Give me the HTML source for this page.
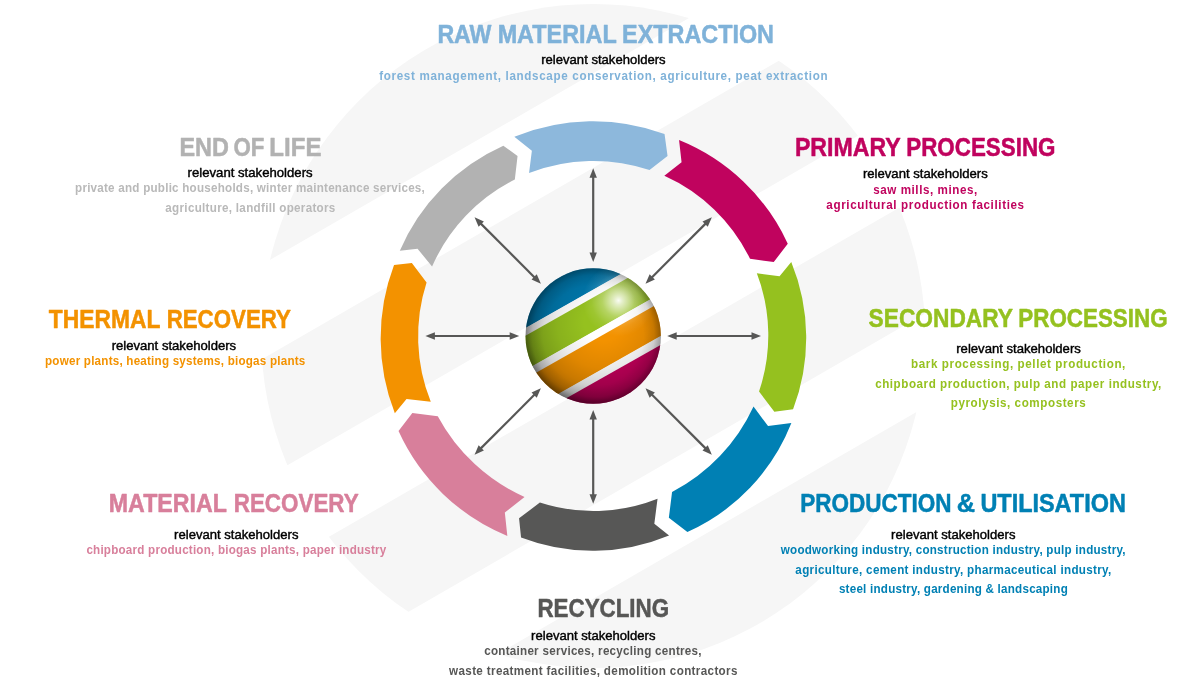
<!DOCTYPE html>
<html><head><meta charset="utf-8"><title>Cascade utilisation cycle</title>
<style>
html,body{margin:0;padding:0;background:#fff;}
body{width:1200px;height:699px;overflow:hidden;font-family:"Liberation Sans",sans-serif;}
svg{display:block;will-change:transform;}
text{font-family:"Liberation Sans",sans-serif;}
.title{font-size:25.1px;font-weight:bold;stroke-width:0.5px;stroke-linejoin:round;word-spacing:-1.5px;}
.rel{font-size:12.2px;font-weight:normal;stroke:#000;stroke-width:0.4px;}
.desc{font-size:12.2px;font-weight:bold;}
</style></head><body>
<svg width="1200" height="699" viewBox="0 0 1200 699">
<defs>
<clipPath id="bgclip"><circle cx="593.20" cy="336.00" r="332.00"/></clipPath>
<clipPath id="sphclip"><circle cx="593.20" cy="336.00" r="67.70"/></clipPath>
<radialGradient id="shade" gradientUnits="userSpaceOnUse" cx="603" cy="322" r="84">
<stop offset="0" stop-color="#000" stop-opacity="0"/>
<stop offset="0.22" stop-color="#000" stop-opacity="0"/>
<stop offset="0.55" stop-color="#000" stop-opacity="0.08"/>
<stop offset="0.75" stop-color="#000" stop-opacity="0.17"/>
<stop offset="0.9" stop-color="#000" stop-opacity="0.28"/>
<stop offset="1" stop-color="#000" stop-opacity="0.42"/>
</radialGradient>
<radialGradient id="edge" gradientUnits="userSpaceOnUse" cx="593.20" cy="336.00" r="67.70">
<stop offset="0" stop-color="#000" stop-opacity="0"/>
<stop offset="0.74" stop-color="#000" stop-opacity="0"/>
<stop offset="0.90" stop-color="#000" stop-opacity="0.09"/>
<stop offset="1" stop-color="#000" stop-opacity="0.28"/>
</radialGradient>
<radialGradient id="hl" cx="0.5" cy="0.5" r="0.5">
<stop offset="0" stop-color="#fff" stop-opacity="0.95"/>
<stop offset="0.12" stop-color="#fff" stop-opacity="0.75"/>
<stop offset="0.45" stop-color="#fff" stop-opacity="0.30"/>
<stop offset="0.75" stop-color="#fff" stop-opacity="0.08"/>
<stop offset="1" stop-color="#fff" stop-opacity="0"/>
</radialGradient>
</defs>
<rect x="0" y="0" width="1200" height="699" fill="#fff"/>
<g clip-path="url(#bgclip)"><g transform="translate(593.20 336.00) rotate(-30)"><rect x="-400" y="-400.00" width="800" height="172.50" fill="#f6f6f6"/><rect x="-400" y="-145.60" width="800" height="104.60" fill="#f6f6f6"/><rect x="-400" y="41.80" width="800" height="104.70" fill="#f6f6f6"/><rect x="-400" y="227.50" width="800" height="172.50" fill="#f6f6f6"/></g></g>

<path d="M394.82 413.26 A206.15 206.15 0 0 1 394.02 265.06 L411.85 263.05 L426.57 282.38 A175.57 175.57 0 0 0 430.77 401.74 L406.54 399.04 Z" fill="#f39200"/>
<path d="M399.83 250.74 A202.87 202.87 0 0 1 503.33 145.73 L517.55 156.05 L514.84 179.58 A176.25 176.25 0 0 0 432.07 266.56 L417.55 248.73 Z" fill="#b2b2b2"/>
<path d="M514.34 136.82 A207.30 207.30 0 0 1 664.54 134.02 L667.55 156.05 L649.52 170.07 A177.81 177.81 0 0 0 529.06 173.07 L531.87 150.74 Z" fill="#8db8dc"/>
<path d="M679.06 140.03 A203.73 203.73 0 0 1 787.77 243.72 L773.75 262.05 L750.02 258.74 A174.99 174.99 0 0 0 664.34 175.78 L681.57 162.36 Z" fill="#c0035e"/>
<path d="M791.27 262.05 A200.48 200.48 0 0 1 793.08 409.35 L774.35 411.75 L759.03 391.52 A174.26 174.26 0 0 0 756.83 273.26 L779.56 276.27 Z" fill="#95c11f"/>
<path d="M791.38 423.07 A199.88 199.88 0 0 1 687.38 532.07 L668.85 517.85 L672.06 492.02 A181.74 181.74 0 0 0 753.52 406.54 L768.04 426.07 Z" fill="#0080b4"/>
<path d="M669.05 535.38 A198.60 198.60 0 0 1 521.05 537.38 L519.05 518.36 L539.88 502.53 A173.57 173.57 0 0 0 657.54 498.73 L654.33 523.76 Z" fill="#575756"/>
<path d="M507.34 535.88 A204.74 204.74 0 0 1 398.53 431.08 L412.35 413.06 L437.78 416.26 A183.69 183.69 0 0 0 524.56 497.03 L504.83 512.55 Z" fill="#d87f9b"/>

<g transform="translate(593.20 336.00) rotate(0)"><line x1="82.50" y1="0" x2="159.30" y2="0" stroke="#575756" stroke-width="2.2"/><path d="M74.00 0 L83.50 -3.70 L83.50 3.70 Z" fill="#575756"/><path d="M167.80 0 L158.30 -3.70 L158.30 3.70 Z" fill="#575756"/></g>
<g transform="translate(593.20 336.00) rotate(45)"><line x1="82.50" y1="0" x2="159.30" y2="0" stroke="#575756" stroke-width="2.2"/><path d="M74.00 0 L83.50 -3.70 L83.50 3.70 Z" fill="#575756"/><path d="M167.80 0 L158.30 -3.70 L158.30 3.70 Z" fill="#575756"/></g>
<g transform="translate(593.20 336.00) rotate(90)"><line x1="82.50" y1="0" x2="159.30" y2="0" stroke="#575756" stroke-width="2.2"/><path d="M74.00 0 L83.50 -3.70 L83.50 3.70 Z" fill="#575756"/><path d="M167.80 0 L158.30 -3.70 L158.30 3.70 Z" fill="#575756"/></g>
<g transform="translate(593.20 336.00) rotate(135)"><line x1="82.50" y1="0" x2="159.30" y2="0" stroke="#575756" stroke-width="2.2"/><path d="M74.00 0 L83.50 -3.70 L83.50 3.70 Z" fill="#575756"/><path d="M167.80 0 L158.30 -3.70 L158.30 3.70 Z" fill="#575756"/></g>
<g transform="translate(593.20 336.00) rotate(180)"><line x1="82.50" y1="0" x2="159.30" y2="0" stroke="#575756" stroke-width="2.2"/><path d="M74.00 0 L83.50 -3.70 L83.50 3.70 Z" fill="#575756"/><path d="M167.80 0 L158.30 -3.70 L158.30 3.70 Z" fill="#575756"/></g>
<g transform="translate(593.20 336.00) rotate(225)"><line x1="82.50" y1="0" x2="159.30" y2="0" stroke="#575756" stroke-width="2.2"/><path d="M74.00 0 L83.50 -3.70 L83.50 3.70 Z" fill="#575756"/><path d="M167.80 0 L158.30 -3.70 L158.30 3.70 Z" fill="#575756"/></g>
<g transform="translate(593.20 336.00) rotate(270)"><line x1="82.50" y1="0" x2="159.30" y2="0" stroke="#575756" stroke-width="2.2"/><path d="M74.00 0 L83.50 -3.70 L83.50 3.70 Z" fill="#575756"/><path d="M167.80 0 L158.30 -3.70 L158.30 3.70 Z" fill="#575756"/></g>
<g transform="translate(593.20 336.00) rotate(315)"><line x1="82.50" y1="0" x2="159.30" y2="0" stroke="#575756" stroke-width="2.2"/><path d="M74.00 0 L83.50 -3.70 L83.50 3.70 Z" fill="#575756"/><path d="M167.80 0 L158.30 -3.70 L158.30 3.70 Z" fill="#575756"/></g>

<g clip-path="url(#sphclip)"><g transform="translate(593.20 336.00) rotate(-29.5)"><rect x="-80" y="-80.00" width="160" height="39.90" fill="#0078ad"/><rect x="-80" y="-40.40" width="160" height="7.20" fill="#ffffff"/><rect x="-80" y="-33.50" width="160" height="30.00" fill="#95c11f"/><rect x="-80" y="-3.80" width="160" height="7.90" fill="#ffffff"/><rect x="-80" y="3.80" width="160" height="29.70" fill="#f39200"/><rect x="-80" y="33.20" width="160" height="8.00" fill="#ffffff"/><rect x="-80" y="40.90" width="160" height="39.40" fill="#c2005a"/></g><circle cx="593.20" cy="336.00" r="68.20" fill="url(#shade)"/><circle cx="593.20" cy="336.00" r="68.20" fill="url(#edge)"/><circle cx="618.50" cy="300.50" r="36" fill="url(#hl)"/></g>

<text class="title" x="437.40" y="43.00" textLength="54.06" lengthAdjust="spacingAndGlyphs" fill="#7fb2d9" stroke="#7fb2d9">RAW</text>
<text class="title" x="497.63" y="43.00" textLength="119.15" lengthAdjust="spacingAndGlyphs" fill="#7fb2d9" stroke="#7fb2d9">MATERIAL</text>
<text class="title" x="622.12" y="43.00" textLength="151.85" lengthAdjust="spacingAndGlyphs" fill="#7fb2d9" stroke="#7fb2d9">EXTRACTION</text>
<text class="rel" x="541.22" y="64.40" textLength="124.38" lengthAdjust="spacingAndGlyphs" fill="#000">relevant stakeholders</text>
<text class="desc" transform="translate(379.24 79.60) scale(0.955 1)" textLength="469.40" lengthAdjust="spacing" fill="#7fb2d9">forest management, landscape conservation, agriculture, peat extraction</text>
<text class="title" x="179.49" y="156.00" textLength="49.42" lengthAdjust="spacingAndGlyphs" fill="#b2b2b2" stroke="#b2b2b2">END</text>
<text class="title" x="233.44" y="156.00" textLength="30.96" lengthAdjust="spacingAndGlyphs" fill="#b2b2b2" stroke="#b2b2b2">OF</text>
<text class="title" x="269.37" y="156.00" textLength="52.06" lengthAdjust="spacingAndGlyphs" fill="#b2b2b2" stroke="#b2b2b2">LIFE</text>
<text class="rel" x="187.58" y="176.60" textLength="125.07" lengthAdjust="spacingAndGlyphs" fill="#000">relevant stakeholders</text>
<text class="desc" transform="translate(75.04 192.00) scale(0.955 1)" textLength="366.25" lengthAdjust="spacing" fill="#b9b9b9">private and public households, winter maintenance services,</text>
<text class="desc" transform="translate(165.35 211.80) scale(0.955 1)" textLength="177.99" lengthAdjust="spacing" fill="#b9b9b9">agriculture, landfill operators</text>
<text class="title" x="48.86" y="327.60" textLength="111.50" lengthAdjust="spacingAndGlyphs" fill="#f39200" stroke="#f39200">THERMAL</text>
<text class="title" x="166.65" y="327.60" textLength="124.30" lengthAdjust="spacingAndGlyphs" fill="#f39200" stroke="#f39200">RECOVERY</text>
<text class="rel" x="111.67" y="349.80" textLength="124.49" lengthAdjust="spacingAndGlyphs" fill="#000">relevant stakeholders</text>
<text class="desc" transform="translate(45.03 365.30) scale(0.955 1)" textLength="272.55" lengthAdjust="spacing" fill="#f39200">power plants, heating systems, biogas plants</text>
<text class="title" x="108.79" y="512.00" textLength="118.11" lengthAdjust="spacingAndGlyphs" fill="#d87f9b" stroke="#d87f9b">MATERIAL</text>
<text class="title" x="233.77" y="512.00" textLength="124.83" lengthAdjust="spacingAndGlyphs" fill="#d87f9b" stroke="#d87f9b">RECOVERY</text>
<text class="rel" x="174.10" y="538.90" textLength="124.39" lengthAdjust="spacingAndGlyphs" fill="#000">relevant stakeholders</text>
<text class="desc" transform="translate(86.40 554.10) scale(0.955 1)" textLength="314.08" lengthAdjust="spacing" fill="#d87f9b">chipboard production, biogas plants, paper industry</text>
<text class="title" x="537.44" y="616.70" textLength="131.69" lengthAdjust="spacingAndGlyphs" fill="#575756" stroke="#575756">RECYCLING</text>
<text class="rel" x="531.10" y="639.80" textLength="124.39" lengthAdjust="spacingAndGlyphs" fill="#000">relevant stakeholders</text>
<text class="desc" transform="translate(484.18 655.30) scale(0.955 1)" textLength="227.58" lengthAdjust="spacing" fill="#575756">container services, recycling centres,</text>
<text class="desc" transform="translate(449.09 674.60) scale(0.955 1)" textLength="301.93" lengthAdjust="spacing" fill="#575756">waste treatment facilities, demolition contractors</text>
<text class="title" x="794.88" y="155.50" textLength="105.83" lengthAdjust="spacingAndGlyphs" fill="#c0035e" stroke="#c0035e">PRIMARY</text>
<text class="title" x="906.23" y="155.50" textLength="149.27" lengthAdjust="spacingAndGlyphs" fill="#c0035e" stroke="#c0035e">PROCESSING</text>
<text class="rel" x="862.92" y="178.30" textLength="124.80" lengthAdjust="spacingAndGlyphs" fill="#000">relevant stakeholders</text>
<text class="desc" transform="translate(873.17 193.50) scale(0.955 1)" textLength="108.97" lengthAdjust="spacing" fill="#c0035e">saw mills, mines,</text>
<text class="desc" transform="translate(826.35 208.70) scale(0.955 1)" textLength="207.07" lengthAdjust="spacing" fill="#c0035e">agricultural production facilities</text>
<text class="title" x="868.62" y="327.30" textLength="144.38" lengthAdjust="spacingAndGlyphs" fill="#95c11f" stroke="#95c11f">SECONDARY</text>
<text class="title" x="1018.31" y="327.30" textLength="149.29" lengthAdjust="spacingAndGlyphs" fill="#95c11f" stroke="#95c11f">PROCESSING</text>
<text class="rel" x="956.22" y="353.30" textLength="124.63" lengthAdjust="spacingAndGlyphs" fill="#000">relevant stakeholders</text>
<text class="desc" transform="translate(911.03 367.80) scale(0.955 1)" textLength="224.41" lengthAdjust="spacing" fill="#95c11f">bark processing, pellet production,</text>
<text class="desc" transform="translate(875.18 387.50) scale(0.955 1)" textLength="299.58" lengthAdjust="spacing" fill="#95c11f">chipboard production, pulp and paper industry,</text>
<text class="desc" transform="translate(950.80 407.10) scale(0.955 1)" textLength="141.29" lengthAdjust="spacing" fill="#95c11f">pyrolysis, composters</text>
<text class="title" x="800.20" y="512.00" textLength="151.28" lengthAdjust="spacingAndGlyphs" fill="#0080b4" stroke="#0080b4">PRODUCTION</text>
<text class="title" x="956.68" y="512.00" textLength="18.28" lengthAdjust="spacingAndGlyphs" fill="#0080b4" stroke="#0080b4">&amp;</text>
<text class="title" x="980.40" y="512.00" textLength="145.43" lengthAdjust="spacingAndGlyphs" fill="#0080b4" stroke="#0080b4">UTILISATION</text>
<text class="rel" x="891.10" y="538.90" textLength="124.39" lengthAdjust="spacingAndGlyphs" fill="#000">relevant stakeholders</text>
<text class="desc" transform="translate(780.76 554.10) scale(0.955 1)" textLength="361.02" lengthAdjust="spacing" fill="#0080b4">woodworking industry, construction industry, pulp industry,</text>
<text class="desc" transform="translate(795.35 573.70) scale(0.955 1)" textLength="330.83" lengthAdjust="spacing" fill="#0080b4">agriculture, cement industry, pharmaceutical industry,</text>
<text class="desc" transform="translate(838.94 593.40) scale(0.955 1)" textLength="239.61" lengthAdjust="spacing" fill="#0080b4">steel industry, gardening &amp; landscaping</text>

</svg>
</body></html>
